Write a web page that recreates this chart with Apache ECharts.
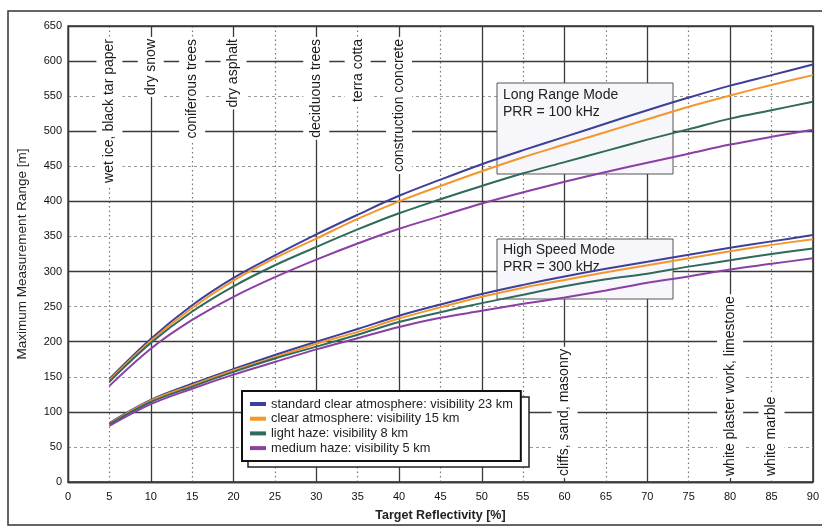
<!DOCTYPE html>
<html>
<head>
<meta charset="utf-8">
<script src="https://cdn.jsdelivr.net/npm/echarts@6/dist/echarts.min.js"></script>
<style>
html,body{margin:0;padding:0;background:#fff;}
#chart{width:822px;height:527px;}
</style>
</head>
<body>
<div id="chart"></div>
<script>
// ---- data ----
const reflectivity = [5,10,15,20,25,30,35,40,45,50,55,60,65,70,75,80,85,90];

// Long Range Mode, PRR = 100 kHz
const lrStandard = [147,204,252,291,323,353,381,408,431,453,473,492,511,530,548,565,580,595];
const lrClear    = [145,201,248,287,319,347,375,400,422,443,463,481,499,517,535,551,566,580];
const lrLight    = [143,198,243,279,309,335,360,383,403,422,440,456,472,488,503,518,530,542];
const lrMedium   = [137,190,231,264,292,317,340,361,379,397,413,428,442,455,468,481,492,502];

// High Speed Mode, PRR = 300 kHz
const hsStandard = [84,117,140,161,181,200,218,237,253,268,281,293,304,314,324,334,343,352];
const hsClear    = [83,116,138,159,178,197,214,233,249,264,277,288,299,309,319,329,338,346];
const hsLight    = [82,114,136,157,176,193,210,228,242,255,267,279,289,297,307,316,325,333];
const hsMedium   = [80,111,133,153,171,189,205,221,234,244,254,263,273,284,293,303,311,319];

const seriesNames = [
  'standard clear atmosphere: visibility 23 km',
  'clear atmosphere: visibility 15 km',
  'light haze: visibility 8 km',
  'medium haze: visibility 5 km'
];
const seriesColors = ['#3d3f98', '#f5962c', '#2f6a5a', '#8c3fa4'];

const topMaterialX = [5,10,15,20,30,35,40];
const topMaterialNames = ['wet ice, black tar paper','dry snow','coniferous trees','dry asphalt','deciduous trees','terra cotta','construction concrete'];
const bottomMaterialX = [60,80,85];
const bottomMaterialNames = ['cliffs, sand, masonry','white plaster work, limestone','white marble'];

const xTicks = {min:0, max:90, minor:5, major:10};
const yTicks = {min:0, max:650, minor:50, major:100};

// ---- chart ----
const FONT = 'Liberation Sans, Arial, sans-serif';
const chart = echarts.init(document.getElementById('chart'), null, {renderer:'canvas'});

function pairs(arr){ return reflectivity.map((x,i)=>[x, arr[i]]); }

const curveSets = [
  [lrStandard, lrClear, lrLight, lrMedium],
  [hsStandard, hsClear, hsLight, hsMedium]
];
const series = [];
curveSets.forEach(set=>{
  set.forEach((arr,k)=>{
    series.push({
      type:'line', name:seriesNames[k], data:pairs(arr),
      xAxisIndex:0, yAxisIndex:0,
      smooth:0.35, showSymbol:false, symbol:'none', z:5,
      lineStyle:{color:seriesColors[k], width:2},
      itemStyle:{color:seriesColors[k]},
      emphasis:{disabled:true}
    });
  });
});

function matLine(x, name, pos, dist){
  return {xAxis:x, name:name, label:{position:pos, distance:dist}};
}
series.push({
  type:'line', name:'materials', data:[], xAxisIndex:0, yAxisIndex:0, z:3,
  markLine:{
    silent:true, symbol:['none','none'], animation:false,
    lineStyle:{color:'rgba(0,0,0,0)', width:1, type:'solid'},
    emphasis:{disabled:true},
    label:{
      show:true, formatter:'{b}', color:'#1a1a1a', fontFamily:FONT, fontSize:14,
      backgroundColor:'#fff', padding:[6,2]
    },
    data: topMaterialX.map((x,i)=>matLine(x, topMaterialNames[i], 'insideEnd', 11))
      .concat(bottomMaterialX.map((x,i)=>matLine(x, bottomMaterialNames[i], 'insideStart', 4)))
  }
});

const minorDashH = {color:['rgba(0,0,0,0)','#9a9a9a'], type:[3,3], width:1};
const minorDashV = {color:['rgba(0,0,0,0)','#777'], type:[1.5,3], width:1.2};
const majorLine = {color:'#3a3a3a', width:1.3, type:'solid'};

const option = {
  backgroundColor:'#ffffff',
  animation:false,
  grid:{left:68, right:4, top:26, bottom:44, show:true, borderColor:'#333', borderWidth:1.3, backgroundColor:'rgba(0,0,0,0)'},
  legend:{
    data:seriesNames, orient:'vertical', left:242, top:391,
    backgroundColor:'#fff', borderColor:'#111', borderWidth:2,
    padding:[6,8,6,8], itemGap:0.7, itemWidth:16, itemHeight:4, icon:'rect',
    selectedMode:false, z:6,
    textStyle:{fontFamily:FONT, fontSize:12.8, color:'#222', lineHeight:14}
  },
  xAxis:[
    {type:'value', min:xTicks.min, max:xTicks.max, interval:xTicks.minor, z:0,
     name:'Target Reflectivity [%]', nameLocation:'middle', nameGap:27,
     nameTextStyle:{fontFamily:FONT, fontSize:12.5, color:'#222', fontWeight:'bold'},
     axisLine:{show:true, lineStyle:{color:'#333', width:1.3}}, axisTick:{show:false},
     axisLabel:{fontFamily:FONT, fontSize:11, color:'#111', margin:9},
     splitLine:{show:true, lineStyle:minorDashV}},
    {type:'value', min:xTicks.min, max:xTicks.max, interval:xTicks.major, position:'bottom', z:1,
     axisLine:{show:false}, axisTick:{show:false}, axisLabel:{show:false},
     splitLine:{show:true, lineStyle:majorLine}}
  ],
  yAxis:[
    {type:'value', min:yTicks.min, max:yTicks.max, interval:yTicks.minor, z:0,
     name:'Maximum Measurement Range [m]', nameLocation:'middle', nameGap:39,
     nameTextStyle:{fontFamily:FONT, fontSize:13.5, color:'#222'},
     axisLine:{show:true, lineStyle:{color:'#333', width:1.3}}, axisTick:{show:false},
     axisLabel:{fontFamily:FONT, fontSize:11, color:'#111', margin:6},
     splitLine:{show:true, lineStyle:minorDashH}},
    {type:'value', min:yTicks.min, max:yTicks.max, interval:yTicks.major, position:'left', z:1,
     axisLine:{show:false}, axisTick:{show:false}, axisLabel:{show:false},
     splitLine:{show:true, lineStyle:majorLine}}
  ],
  graphic:[
    {type:'rect', z:0, silent:true, shape:{x:8, y:11, width:830, height:514},
     style:{fill:'none', stroke:'#333', lineWidth:1.5}},
    {type:'rect', z:2, silent:true, shape:{x:497, y:83, width:176, height:91},
     style:{fill:'#f7f6fa', stroke:'#555', lineWidth:1}},
    {type:'text', z:2, silent:true, left:503, top:87,
     style:{text:'Long Range Mode\nPRR = 100 kHz', font:'14px Liberation Sans, Arial, sans-serif', fill:'#222', lineHeight:17}},
    {type:'rect', z:2, silent:true, shape:{x:497, y:239, width:176, height:60},
     style:{fill:'#f7f6fa', stroke:'#555', lineWidth:1}},
    {type:'text', z:2, silent:true, left:503, top:242,
     style:{text:'High Speed Mode\nPRR = 300 kHz', font:'14px Liberation Sans, Arial, sans-serif', fill:'#222', lineHeight:17}},
    {type:'rect', z:5, silent:true, shape:{x:248, y:397, width:281, height:70},
     style:{fill:'#fff', stroke:'#222', lineWidth:1.5}}
  ],
  series:series
};
chart.setOption(option);
</script>
</body>
</html>
